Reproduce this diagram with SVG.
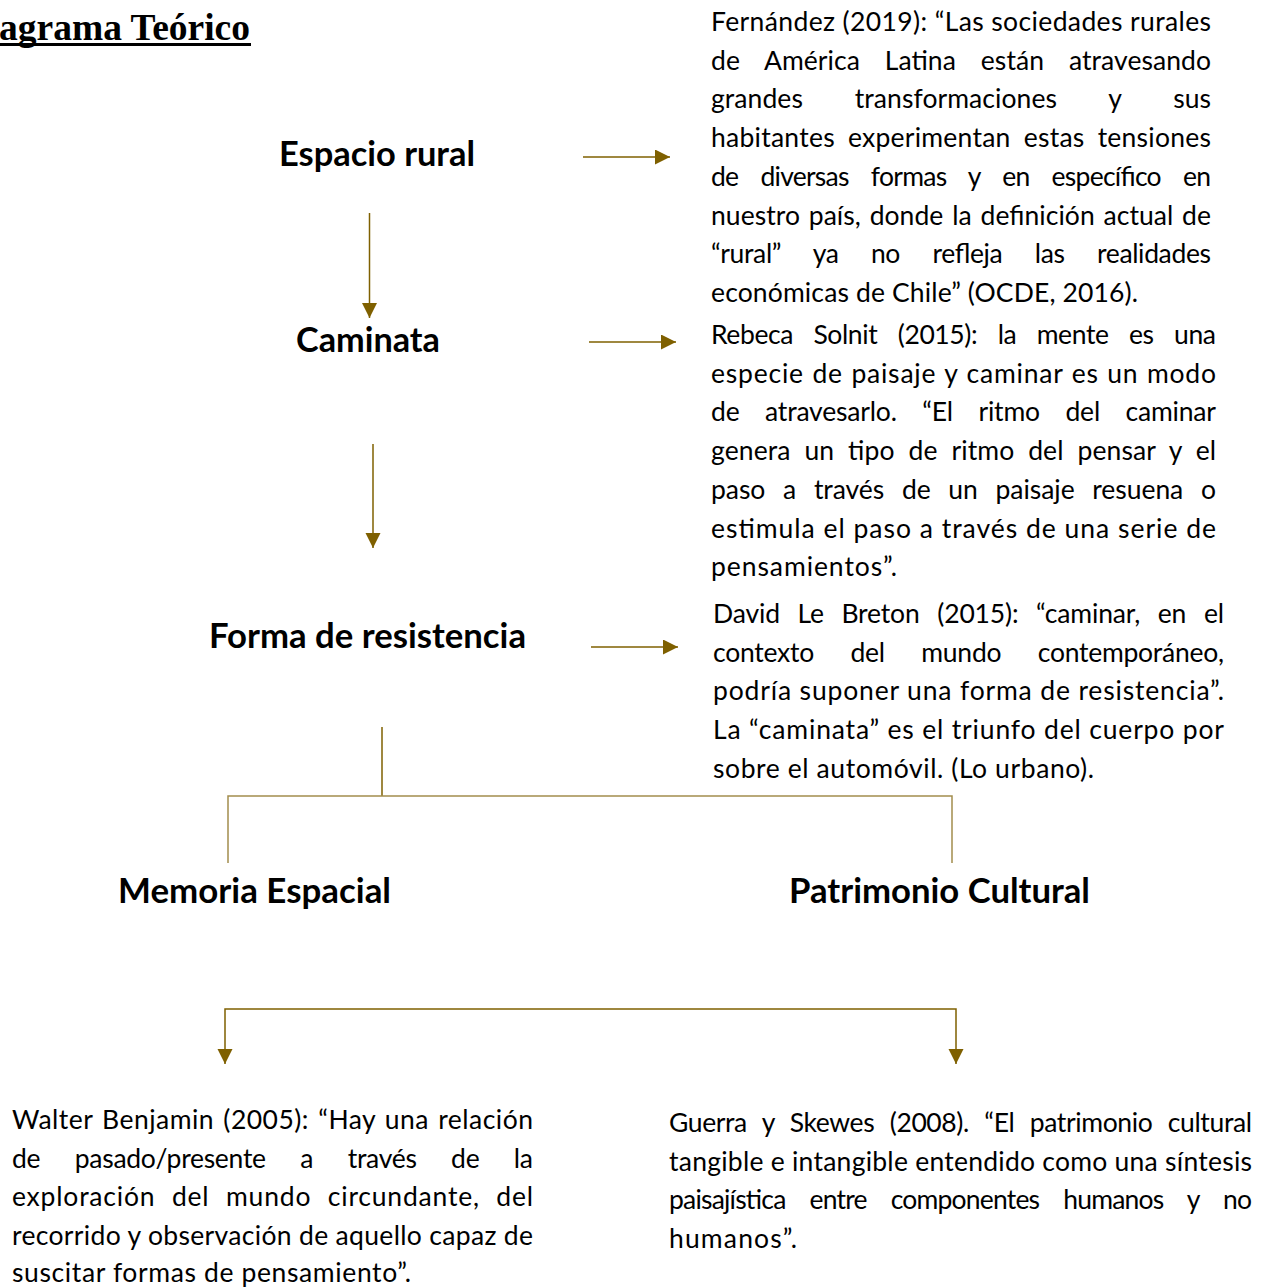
<svg xmlns="http://www.w3.org/2000/svg" width="1271" height="1287" viewBox="0 0 1271 1287">
<style>
.t text{font-family:Lato,"Liberation Sans",sans-serif;font-size:26.5px;fill:#000}
.h{font-family:Lato,"Liberation Sans",sans-serif;font-size:35px;font-weight:bold;fill:#000;text-anchor:middle}
.ttl{font-family:"Liberation Serif","Times New Roman",serif;font-size:37.5px;font-weight:bold;fill:#000}
.c{fill:none;stroke:#7F6000;stroke-width:1.5}
.cl{fill:none;stroke:#A38D4D;stroke-width:1.5}
</style>
<defs>
<marker id="ah" markerUnits="userSpaceOnUse" markerWidth="16" markerHeight="16" refX="15" refY="7.5" orient="auto">
<path d="M0,0 L15,7.5 L0,15 z" fill="#7F6000"/>
</marker>
</defs>
<rect width="1271" height="1287" fill="#fff"/>

<g id="title">
<text class="ttl" x="-1" y="40">agrama Teórico</text>
<rect x="0" y="43" width="251" height="3" fill="#000"/>
</g>

<g id="connectors">
<path class="c" d="M583,157 H670" marker-end="url(#ah)"/>
<path class="c" d="M589,342 H676" marker-end="url(#ah)"/>
<path class="c" d="M591,647 H678" marker-end="url(#ah)"/>
<path class="c" d="M369.5,213 V318" marker-end="url(#ah)"/>
<path class="c" d="M373,444 V548" marker-end="url(#ah)"/>
<path class="c" d="M382,727 V796"/>
<path class="cl" d="M228,863 V796 H952 V863"/>
<path class="c" d="M773,1009 H225 V1064" marker-end="url(#ah)"/>
<path class="c" d="M773,1009 H956 V1064" marker-end="url(#ah)"/>
</g>

<g id="n-espacio"><text class="h" x="377" y="166" textLength="196" lengthAdjust="spacingAndGlyphs">Espacio rural</text></g>
<g id="n-caminata"><text class="h" x="368" y="352" textLength="144" lengthAdjust="spacingAndGlyphs">Caminata</text></g>
<g id="n-forma"><text class="h" x="367.5" y="648" textLength="317" lengthAdjust="spacingAndGlyphs">Forma de resistencia</text></g>
<g id="n-memoria"><text class="h" x="254.5" y="903" textLength="273" lengthAdjust="spacingAndGlyphs">Memoria Espacial</text></g>
<g id="n-patrimonio"><text class="h" x="939.5" y="903" textLength="301" lengthAdjust="spacingAndGlyphs">Patrimonio Cultural</text></g>

<g id="n-fernandez" class="t">
<text x="711" y="31" textLength="500" lengthAdjust="spacing">Fernández (2019): “Las sociedades rurales</text>
<text x="711" y="69.7" textLength="500" lengthAdjust="spacing" word-spacing="18">de América Latina están atravesando</text>
<text x="711" y="108.4" textLength="500" lengthAdjust="spacing" word-spacing="45">grandes transformaciones y sus</text>
<text x="711" y="147.1" textLength="500" lengthAdjust="spacing" word-spacing="6">habitantes experimentan estas tensiones</text>
<text x="711" y="185.8" textLength="500" lengthAdjust="spacing" word-spacing="16">de diversas formas y en específico en</text>
<text x="711" y="224.5" textLength="500" lengthAdjust="spacing" word-spacing="2">nuestro país, donde la definición actual de</text>
<text x="711" y="263.2" textLength="500" lengthAdjust="spacing" word-spacing="26">“rural” ya no refleja las realidades</text>
<text x="711" y="301.9" textLength="427" lengthAdjust="spacing">económicas de Chile” (OCDE, 2016).</text>
</g>

<g id="n-solnit" class="t">
<text x="711" y="344" textLength="505" lengthAdjust="spacing" word-spacing="14">Rebeca Solnit (2015): la mente es una</text>
<text x="711" y="382.7" textLength="505" lengthAdjust="spacing" word-spacing="1">especie de paisaje y caminar es un modo</text>
<text x="711" y="421.4" textLength="505" lengthAdjust="spacing" word-spacing="19">de atravesarlo. “El ritmo del caminar</text>
<text x="711" y="460.1" textLength="505" lengthAdjust="spacing" word-spacing="7">genera un tipo de ritmo del pensar y el</text>
<text x="711" y="498.8" textLength="505" lengthAdjust="spacing" word-spacing="11">paso a través de un paisaje resuena o</text>
<text x="711" y="537.5" textLength="505" lengthAdjust="spacing">estimula el paso a través de una serie de</text>
<text x="711" y="576.2" textLength="186" lengthAdjust="spacing">pensamientos”.</text>
</g>

<g id="n-lebreton" class="t">
<text x="713" y="623" textLength="511" lengthAdjust="spacing" word-spacing="11">David Le Breton (2015): “caminar, en el</text>
<text x="713" y="661.7" textLength="511" lengthAdjust="spacing" word-spacing="30">contexto del mundo contemporáneo,</text>
<text x="713" y="700.4" textLength="511" lengthAdjust="spacing">podría suponer una forma de resistencia”.</text>
<text x="713" y="739.1" textLength="511" lengthAdjust="spacing">La “caminata” es el triunfo del cuerpo por</text>
<text x="713" y="777.8" textLength="381" lengthAdjust="spacing">sobre el automóvil. (Lo urbano).</text>
</g>

<g id="n-benjamin" class="t">
<text x="12" y="1129" textLength="521" lengthAdjust="spacing" word-spacing="2">Walter Benjamin (2005): “Hay una relación</text>
<text x="12" y="1167.7" textLength="521" lengthAdjust="spacing" word-spacing="28">de pasado/presente a través de la</text>
<text x="12" y="1206.4" textLength="521" lengthAdjust="spacing" word-spacing="9">exploración del mundo circundante, del</text>
<text x="12" y="1245.1" textLength="521" lengthAdjust="spacing">recorrido y observación de aquello capaz de</text>
<text x="12" y="1282" textLength="399" lengthAdjust="spacing">suscitar formas de pensamiento”.</text>
</g>

<g id="n-guerra" class="t">
<text x="669" y="1132" textLength="583" lengthAdjust="spacing" word-spacing="9">Guerra y Skewes (2008). “El patrimonio cultural</text>
<text x="669" y="1170.7" textLength="583" lengthAdjust="spacing">tangible e intangible entendido como una síntesis</text>
<text x="669" y="1209.4" textLength="583" lengthAdjust="spacing" word-spacing="18">paisajística entre componentes humanos y no</text>
<text x="669" y="1248.1" textLength="128" lengthAdjust="spacing">humanos”.</text>
</g>
</svg>
